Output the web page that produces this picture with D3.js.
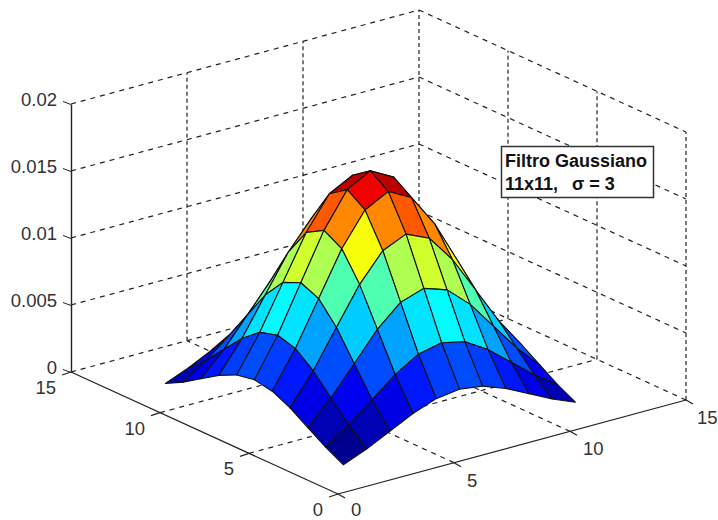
<!DOCTYPE html>
<html>
<head>
<meta charset="utf-8">
<script src="https://cdn.jsdelivr.net/npm/d3@7"></script>
<style>
body{margin:0;background:#fff;}
text{font-family:"Liberation Sans",Arial,sans-serif;}
</style>
</head>
<body>
<div class="chart"></div>
<script>
// grid positions of the surface
var gridX = [1,2,3,4,5,6,7,8,9,10,11];
var gridY = [1,2,3,4,5,6,7,8,9,10,11];
// surface heights, one row per gridX
var gridZ = [
  [0.00110,0.00181,0.00267,0.00353,0.00417,0.00441,0.00417,0.00353,0.00267,0.00181,0.00110],
  [0.00181,0.00299,0.00441,0.00582,0.00688,0.00727,0.00688,0.00582,0.00441,0.00299,0.00181],
  [0.00267,0.00441,0.00650,0.00859,0.01014,0.01072,0.01014,0.00859,0.00650,0.00441,0.00267],
  [0.00353,0.00582,0.00859,0.01133,0.01339,0.01416,0.01339,0.01133,0.00859,0.00582,0.00353],
  [0.00417,0.00688,0.01014,0.01339,0.01582,0.01673,0.01582,0.01339,0.01014,0.00688,0.00417],
  [0.00441,0.00727,0.01072,0.01416,0.01673,0.01768,0.01673,0.01416,0.01072,0.00727,0.00441],
  [0.00417,0.00688,0.01014,0.01339,0.01582,0.01673,0.01582,0.01339,0.01014,0.00688,0.00417],
  [0.00353,0.00582,0.00859,0.01133,0.01339,0.01416,0.01339,0.01133,0.00859,0.00582,0.00353],
  [0.00267,0.00441,0.00650,0.00859,0.01014,0.01072,0.01014,0.00859,0.00650,0.00441,0.00267],
  [0.00181,0.00299,0.00441,0.00582,0.00688,0.00727,0.00688,0.00582,0.00441,0.00299,0.00181],
  [0.00110,0.00181,0.00267,0.00353,0.00417,0.00441,0.00417,0.00353,0.00267,0.00181,0.00110]
];
var xTicks = [0,5,10,15];
var yTicks = [0,5,10,15];
var zTicks = [0,0.005,0.01,0.015,0.02];
var zLabels = ["0","0.005","0.01","0.015","0.02"];
var jetStops = [0,0.125,0.375,0.625,0.875,1];
var jetColors = ["#00008f","#0000ff","#00ffff","#ffff00","#ff0000","#800000"];

var svgWidth = 718, svgHeight = 520;
var svg = d3.select(".chart").append("svg")
  .attr("width",svgWidth)
  .attr("height",svgHeight)
  .style("display","block");

//oblique projection, each data axis moves the point along its own screen direction
var xScaleH = d3.scaleLinear().domain([0,15]).range([0,348]);
var xScaleV = d3.scaleLinear().domain([0,15]).range([0,-94]);
var yScaleH = d3.scaleLinear().domain([0,15]).range([0,-267]);
var yScaleV = d3.scaleLinear().domain([0,15]).range([0,-122]);
var zScale = d3.scaleLinear().domain([0,0.02]).range([372,104]);
var originX = 338, originY = 494;
function project(x,y,z){
  return [originX+xScaleH(x)+yScaleH(y), originY-372+xScaleV(x)+yScaleV(y)+zScale(z)];
}
var line = d3.line();

function drawLine(group,a,b,dash){
  group.append("path")
    .attr("d",line([a,b]))
    .attr("fill","none")
    .attr("stroke","#222")
    .attr("stroke-width",1.2)
    .attr("stroke-dasharray",dash || null);
}
var slopeDash = "5,5", upDash = "4,3";

//dashed grid on the floor and the two back walls
var grid = svg.append("g");
xTicks.slice(1).forEach(function(x){
  drawLine(grid,project(x,0,0),project(x,15,0),slopeDash);
  drawLine(grid,project(x,15,0),project(x,15,0.02),upDash);
});
yTicks.slice(1).forEach(function(y){
  drawLine(grid,project(0,y,0),project(15,y,0),slopeDash);
  //the y=15 upright is the same line as the x=15 one
  if(y<15) drawLine(grid,project(15,y,0),project(15,y,0.02),upDash);
});
zTicks.slice(1).forEach(function(z){
  drawLine(grid,project(0,15,z),project(15,15,z),slopeDash);
  drawLine(grid,project(15,15,z),project(15,0,z),slopeDash);
});
drawLine(grid,project(15,0,0),project(15,0,0.02),upDash);

//solid axes
var axes = svg.append("g");
drawLine(axes,project(0,0,0),project(15,0,0));
drawLine(axes,project(0,0,0),project(0,15,0));

var zAxis = d3.axisLeft(zScale)
  .tickValues(zTicks)
  .tickFormat(function(d,i){return zLabels[i];})
  .tickSizeOuter(0)
  .tickPadding(8);
var zGroup = svg.append("g")
  .attr("transform","translate("+project(0,15,0)[0]+",0)")
  .call(zAxis);
zGroup.select(".domain").attr("stroke","#222").attr("stroke-width",1.4);
zGroup.selectAll(".tick line").attr("x2",-8).attr("y2",-3).attr("stroke","#222");
zGroup.selectAll(".tick text")
  .attr("dy",null)
  .attr("y",0)
  .attr("transform","translate(0,-3)")
  .attr("dominant-baseline","middle")
  .attr("font-size",18.5)
  .attr("font-family","Liberation Sans")
  .attr("fill","#333");

//slanted ticks and labels of the floor axes
xTicks.forEach(function(x){
  var p = project(x,0,0);
  drawLine(axes,p,[p[0]+7,p[1]+4]);
  axes.append("text")
    .attr("x",p[0]+(x==15 ? 11 : 13))
    .attr("y",p[1]+(x==0 ? 22 : 24))
    .attr("font-size",18.5)
    .attr("fill","#333")
    .text(x);
});
yTicks.forEach(function(y){
  var p = project(0,y,0);
  drawLine(axes,p,[p[0]-9,p[1]+3]);
  axes.append("text")
    .attr("x",p[0]-15)
    .attr("y",p[1]+22)
    .attr("text-anchor","end")
    .attr("font-size",18.5)
    .attr("fill","#333")
    .text(y);
});

//jet colours, flat per face from its lowest index corner
var zExtent = [d3.min(gridZ,function(r){return d3.min(r);}), d3.max(gridZ,function(r){return d3.max(r);})];
var color = d3.scaleLinear()
  .domain(jetStops.map(function(t){return zExtent[0]+t*(zExtent[1]-zExtent[0]);}))
  .range(jetColors)
  .interpolate(d3.interpolateRgb);

var faces = [];
gridX.slice(0,-1).forEach(function(xv,i){
  gridY.slice(0,-1).forEach(function(yv,j){
    faces.push({
      i:i, j:j, value:gridZ[i][j],
      corners:[
        project(gridX[i],gridY[j],gridZ[i][j]),
        project(gridX[i+1],gridY[j],gridZ[i+1][j]),
        project(gridX[i+1],gridY[j+1],gridZ[i+1][j+1]),
        project(gridX[i],gridY[j+1],gridZ[i][j+1])
      ]
    });
  });
});
//back faces first
faces.sort(function(a,b){return (b.i+b.j)-(a.i+a.j);});

svg.append("g").selectAll("path")
  .data(faces)
  .enter()
  .append("path")
  .attr("d",function(d){return line(d.corners)+"Z";})
  .attr("fill",function(d){return color(d.value);})
  .attr("stroke","#111")
  .attr("stroke-width",1.1)
  .attr("stroke-linejoin","round");

//note box
var note = svg.append("g");
note.append("rect")
  .attr("x",501.5).attr("y",146.5)
  .attr("width",152).attr("height",51)
  .attr("fill","#fff")
  .attr("stroke","#333")
  .attr("stroke-width",1.5);
note.append("text")
  .attr("x",505).attr("y",167)
  .attr("font-size",18).attr("font-weight","bold").attr("fill","#111")
  .text("Filtro Gaussiano");
var note2 = note.append("text")
  .attr("y",190)
  .attr("font-size",18).attr("font-weight","bold").attr("fill","#111");
note2.append("tspan").attr("x",505).text("11x11,");
note2.append("tspan").attr("x",572).text("σ = 3");
</script>
</body>
</html>
